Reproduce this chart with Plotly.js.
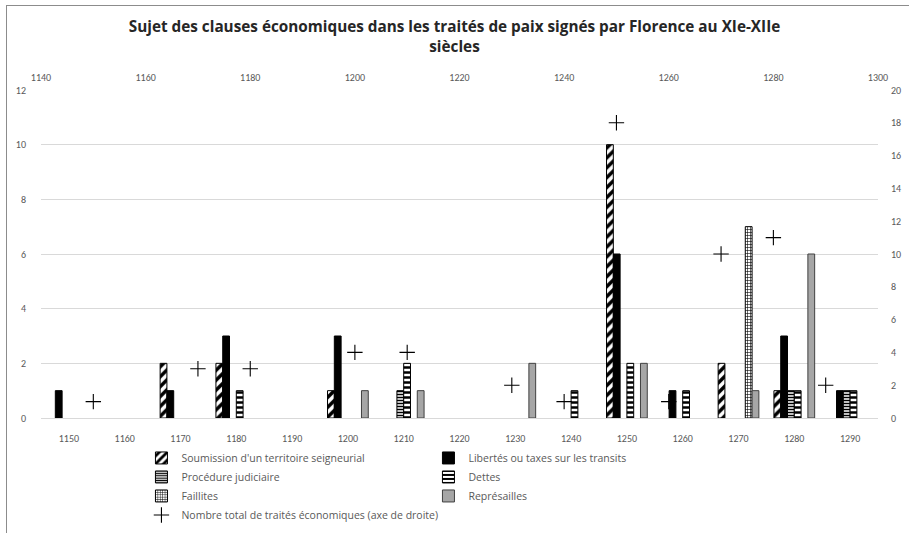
<!DOCTYPE html>
<html>
<head>
<meta charset="utf-8">
<script src="https://cdn.plot.ly/plotly-3.0.1.min.js"></script>
<style>
  html, body { margin: 0; padding: 0; background: #fff; overflow: hidden; }
  #wrap { position: relative; width: 909px; height: 533px; }
  #chart { width: 909px; height: 533px; }
  #frame { position: absolute; left: 6px; top: 5px; width: 1200px; height: 1200px;
           border: 1px solid #8c8c8c; pointer-events: none; }
</style>
</head>
<body>
<div id="wrap"><div id="chart"></div><div id="frame"></div></div>
<script>
// Categories (decades) on the primary (bottom) axis
const decades = ['1150','1160','1170','1180','1190','1200','1210','1220','1230','1240','1250','1260','1270','1280','1290'];

// Number of clauses per subject, per decade
const soumission   = [null, null, 2, 2, null, 1, null, null, null, null, 10, null, 2, 1, null];
const libertes     = [1, null, 1, 3, null, 3, null, null, null, null, 6, 1, null, 3, 1];
const procedure    = [null, null, null, null, null, null, 1, null, null, null, null, null, null, 1, 1];
const dettes       = [null, null, null, 1, null, null, 2, null, null, 1, 2, 1, null, 1, 1];
const faillites    = [null, null, null, null, null, null, null, null, null, null, null, null, 7, null, null];
const represailles = [null, null, null, null, null, 1, 1, null, 2, null, 2, null, 1, 6, null];

// Total number of economic treaties (secondary axes)
const totalYears = [1150, 1170, 1180, 1200, 1210, 1230, 1240, 1250, 1260, 1270, 1280, 1290];
const totals     = [1, 3, 3, 4, 4, 2, 1, 18, 1, 10, 11, 2];

// Labels
const names = {
  soumission: "Soumission d'un territoire seigneurial",
  libertes: "Libertés ou taxes sur les transits",
  procedure: "Procédure judiciaire",
  dettes: "Dettes",
  faillites: "Faillites",
  represailles: "Représailles",
  total: "Nombre total de traités économiques (axe de droite)"
};
const titleText = "Sujet des clauses économiques dans les traités de paix signés par Florence au XIe-XIIe<br>siècles";

const FONT = "Carlito, Calibri, Lato, 'Liberation Sans', Arial, sans-serif";
const TXT = '#595959';

function bar(name, y, marker) {
  return { type: 'bar', name: name, x: decades, y: y, xaxis: 'x', yaxis: 'y',
           marker: marker, hoverinfo: 'x+y+name' };
}
const outline = { color: '#000000', width: 1 };

const data = [
  bar(names.soumission, soumission, { color: '#ffffff', line: outline,
      pattern: { shape: '/', fgcolor: '#000000', bgcolor: '#ffffff', size: 7, solidity: 0.5 } }),
  bar(names.libertes, libertes, { color: '#000000', line: outline }),
  bar(names.procedure, procedure, { color: '#ffffff', line: outline,
      pattern: { shape: '-', fgcolor: '#000000', bgcolor: '#ffffff', size: 3, solidity: 0.5 } }),
  bar(names.dettes, dettes, { color: '#ffffff', line: outline,
      pattern: { shape: '-', fgcolor: '#000000', bgcolor: '#ffffff', size: 5, solidity: 0.5 } }),
  bar(names.faillites, faillites, { color: '#ffffff', line: outline,
      pattern: { shape: '+', fgcolor: '#000000', bgcolor: '#ffffff', size: 3, solidity: 0.35 } }),
  bar(names.represailles, represailles, { color: '#a6a6a6', line: { color: '#404040', width: 1 } }),
  { type: 'scatter', mode: 'markers', name: names.total, x: totalYears, y: totals,
    xaxis: 'x2', yaxis: 'y2',
    marker: { symbol: 'cross-thin', size: 11, color: '#000000', line: { color: '#000000', width: 1.1 } } }
];

const tickFont = { family: FONT, size: 10, color: TXT };

const layout = {
  width: 909, height: 533,
  margin: { l: 41, r: 31, t: 90, b: 115, pad: 0 },
  paper_bgcolor: '#ffffff', plot_bgcolor: '#ffffff',
  font: { family: FONT, size: 10, color: TXT },
  title: { text: titleText, x: 0.5, xref: 'container', y: 0.94, yref: 'container', yanchor: 'middle',
           font: { family: "'Open Sans', 'Noto Sans', sans-serif", size: 15.3, color: '#262626', weight: 'bold' } },
  barmode: 'group', bargap: 0.27, bargroupgap: 0,
  showlegend: true,
  xaxis: { type: 'category', tickfont: tickFont, showgrid: false, showline: true, linecolor: '#d9d9d9',
           linewidth: 1, ticks: '', ticklabelstandoff: 11, fixedrange: true },
  yaxis: { range: [0, 12], dtick: 2, tickfont: tickFont, showgrid: true, gridcolor: '#d9d9d9',
           zeroline: false, ticks: '', ticklabelstandoff: 14, fixedrange: true },
  xaxis2: { overlaying: 'x', side: 'top', anchor: 'y2', range: [1140, 1300], dtick: 20,
            tickfont: tickFont, showgrid: false, zeroline: false, ticks: '', showline: false,
            ticklabelstandoff: 6, fixedrange: true },
  yaxis2: { overlaying: 'y', side: 'right', range: [0, 20], dtick: 2, tickfont: tickFont,
            showgrid: false, zeroline: false, ticks: '', ticklabelstandoff: 12, fixedrange: true },
  legend: { orientation: 'h', x: 0.12, xanchor: 'left', y: 0.168, yref: 'container', yanchor: 'top',
            entrywidth: 242, font: { family: "'Open Sans', 'Noto Sans', sans-serif", size: 10.5, color: TXT },
            traceorder: 'normal', bgcolor: 'rgba(0,0,0,0)' }
};

Plotly.newPlot('chart', data, layout, { displayModeBar: false, staticPlot: true });
</script>
</body>
</html>
